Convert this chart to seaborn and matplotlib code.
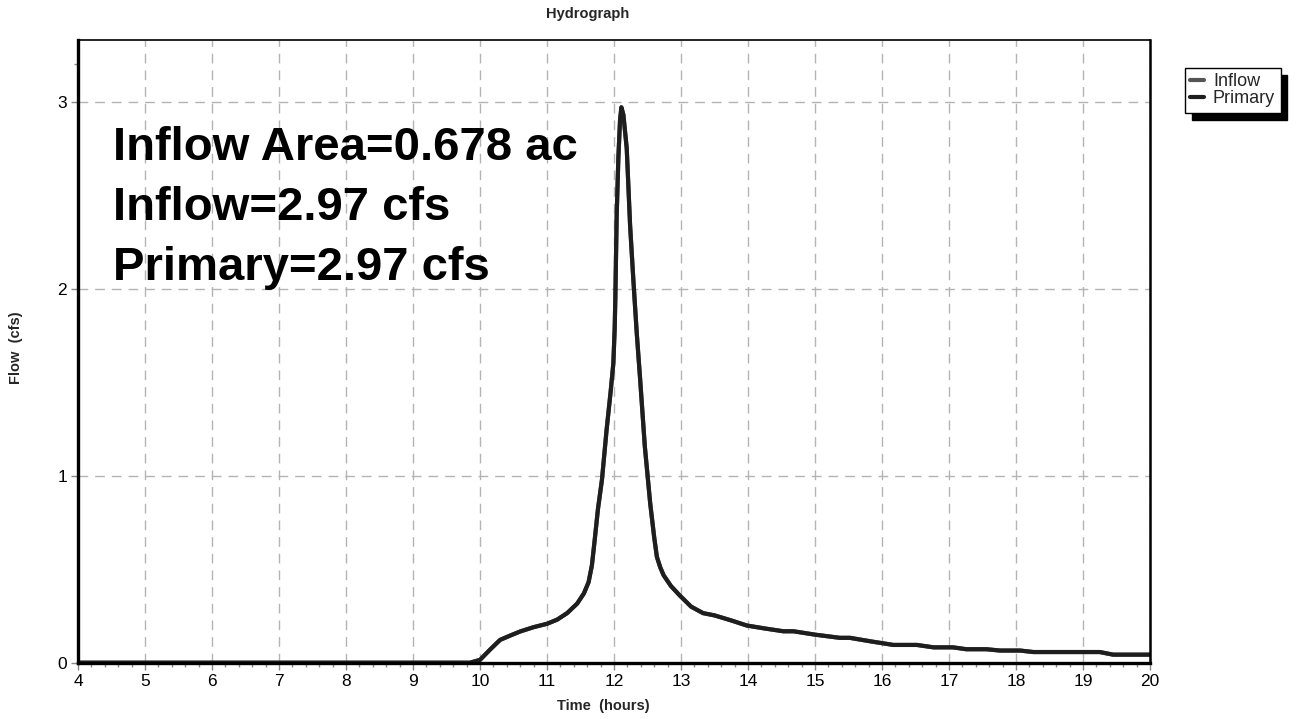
import numpy as np
import pandas as pd
import matplotlib
matplotlib.use("Agg")
import matplotlib.pyplot as plt
from matplotlib.ticker import MultipleLocator
import seaborn as sns

# ---- data ----
time_hours = [4.0, 9.85, 10.0, 10.15, 10.3, 10.45, 10.6, 10.8, 11.0, 11.15, 11.3, 11.45,
              11.55, 11.62, 11.67, 11.71, 11.76, 11.82, 11.89, 11.95, 11.99, 12.01, 12.02, 12.04,
              12.065, 12.09, 12.11, 12.14, 12.19, 12.24, 12.29, 12.34, 12.39, 12.46, 12.54,
              12.6, 12.64, 12.69, 12.74, 12.85, 12.98, 13.15, 13.33, 13.5, 13.75, 13.98, 14.25, 14.53,
              14.68, 15.0, 15.37, 15.52, 15.85, 16.17, 16.52, 16.77, 17.06, 17.26, 17.56,
              17.76, 18.06, 18.26, 19.25, 19.45, 20.0]
flow_cfs = [0.0, 0.0, 0.015, 0.07, 0.122, 0.145, 0.167, 0.19, 0.208, 0.23, 0.265, 0.316,
            0.37, 0.43, 0.52, 0.65, 0.82, 0.978, 1.247, 1.45, 1.6, 1.785, 1.95, 2.39,
            2.7, 2.9, 2.97, 2.93, 2.75, 2.34, 2.04, 1.76, 1.516, 1.157, 0.853,
            0.67, 0.566, 0.51, 0.468, 0.41, 0.36, 0.30, 0.265, 0.253, 0.226, 0.199, 0.183, 0.168,
            0.168, 0.15, 0.133, 0.133, 0.113, 0.095, 0.095, 0.082, 0.082, 0.072, 0.072,
            0.065, 0.065, 0.057, 0.057, 0.043, 0.043]
series_names = ["Inflow", "Primary"]
series_colors = ["#555555", "#1e1e1e"]
x_ticks = list(range(4, 21))
y_ticks = [0, 1, 2, 3]
annotations = ["Inflow Area=0.678 ac", "Inflow=2.97 cfs", "Primary=2.97 cfs"]

df = pd.concat([pd.DataFrame({"Time": time_hours, "Flow": flow_cfs, "Series": s})
                for s in series_names], ignore_index=True)

sns.set_theme(style="white")
plt.rcParams["font.family"] = ["Liberation Sans", "DejaVu Sans"]

fig = plt.figure(figsize=(12.96, 7.19), dpi=100)
ax = fig.add_axes([78 / 1296, 1 - 662.7 / 719, (1150 - 78) / 1296, (662.7 - 40) / 719])

sns.lineplot(data=df, x="Time", y="Flow", hue="Series", palette=series_colors,
             linewidth=3.0, ax=ax, legend=False, sort=False, estimator=None)

ax.set_xlim(4, 20)
ax.set_ylim(0, 3.33)
ax.set_xticks(x_ticks)
ax.set_yticks(y_ticks)
ax.set_yticks([3.2], minor=True)
ax.xaxis.set_minor_locator(MultipleLocator(0.2))
ax.tick_params(axis="both", which="major", direction="out", length=5, width=1,
               color="#888888", labelsize=12.5, labelcolor="black", pad=3,
               bottom=True, left=True)
ax.tick_params(axis="both", which="minor", direction="out", length=3, width=1,
               color="#888888", bottom=True, left=True)
ax.grid(True, which="major", color="#b4b4b4", linestyle=(0, (7, 5)), linewidth=1.0)
ax.set_axisbelow(True)

for side, lw in [("left", 2.4), ("bottom", 2.4), ("top", 1.2), ("right", 1.8)]:
    ax.spines[side].set_visible(True)
    ax.spines[side].set_color("black")
    ax.spines[side].set_linewidth(lw)

ax.set_xlabel("")
ax.set_ylabel("")

fig.text(588 / 1296, 1 - 14 / 719, "Hydrograph", ha="center", va="center",
         fontsize=10.5, fontweight="bold")
fig.text(603 / 1296, 1 - 706 / 719, "Time  (hours)", ha="center", va="center",
         fontsize=10.5, fontweight="bold")
fig.text(16 / 1296, 1 - 348 / 719, "Flow  (cfs)", ha="center", va="center",
         rotation=90, fontsize=10.5, fontweight="bold")

for i, txt in enumerate(annotations):
    baseline_px = 160 + 60 * i
    ax.text((113 - 78) / 1072, (662.7 - baseline_px) / 622.7, txt,
            transform=ax.transAxes, ha="left", va="baseline",
            fontsize=34, fontweight="bold", color="black")

handles = [plt.Line2D([], [], color=c, linewidth=3) for c in series_colors]
leg = fig.legend(handles, series_names, loc="upper left",
                 bbox_to_anchor=(1185 / 1296, 1 - 68 / 719),
                 bbox_transform=fig.transFigure, fontsize=13, frameon=True,
                 fancybox=False, edgecolor="black", framealpha=1,
                 labelspacing=0.0, borderpad=0.3, handlelength=0.75,
                 handletextpad=0.5, borderaxespad=0,
                 shadow={"ox": 5, "oy": -5, "shade": 1.0, "alpha": 1})
leg.get_frame().set_linewidth(1.0)

fig.savefig("out.png", dpi=100)
